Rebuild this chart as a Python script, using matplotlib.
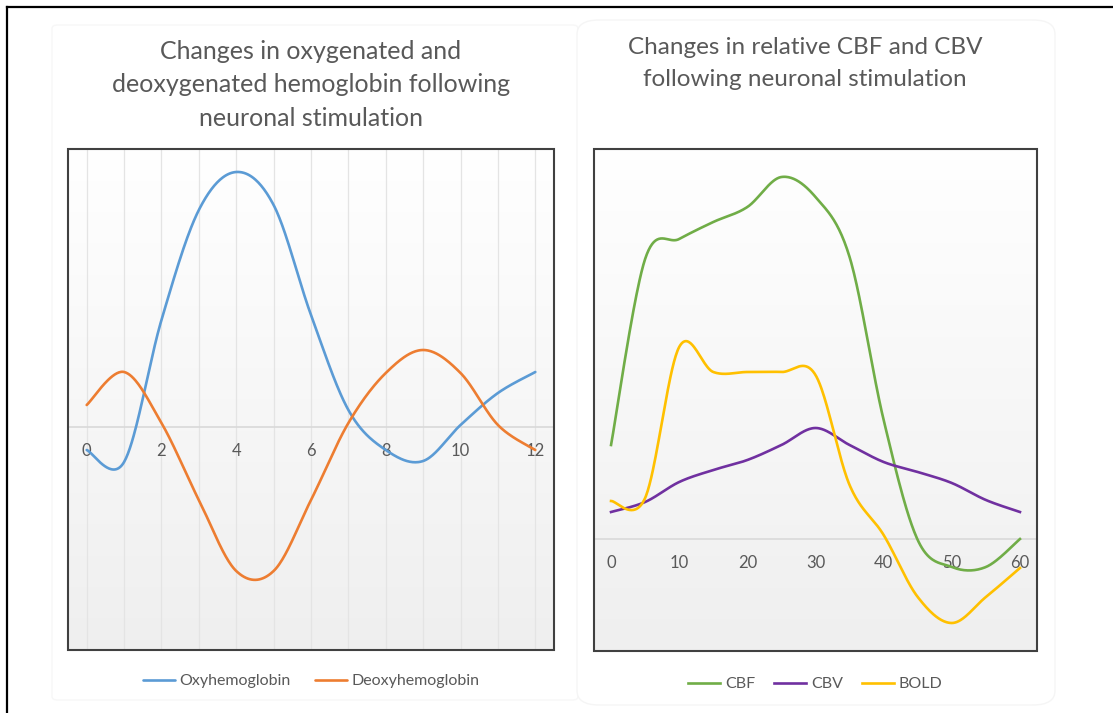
import numpy as np
import matplotlib
matplotlib.use("Agg")
from matplotlib import pyplot as plt
from matplotlib.patches import Rectangle, FancyBboxPatch
from matplotlib.lines import Line2D

plt.rcParams['font.family'] = ['Lato', 'DejaVu Sans']

# left chart: hemoglobin (relative units)
hb_x = list(range(0, 13))
oxy = [-23, -35, 107, 217, 255, 222, 112, 17, -23, -34, 2, 34, 55]
deoxy = [22, 55, 4, -73, -144, -144, -73, 4, 54, 77, 54, 2, -23]

# right chart: CBF / CBV / BOLD (relative units)
t_x = list(range(0, 61, 5))
cbf = [94, 280, 300, 317, 332, 362, 342, 282, 119, -1, -28, -28, 0]
cbv = [27, 37, 57, 69, 79, 94, 111, 94, 77, 67, 56, 39, 27]
bold = [38, 41, 192, 167, 167, 167, 164, 54, 4, -58, -84, -58, -29]

TXT = '#595959'


def smooth(xs, ys, n=40):
    # excel style smoothed line (bezier through the points)
    pts = np.column_stack([xs, ys]).astype(float)
    p = np.vstack([pts[0], pts, pts[-1]])
    t = np.linspace(0, 1, n)[:, None]
    out = []
    for i in range(1, len(p) - 2):
        p0, p1, p2, p3 = p[i - 1], p[i], p[i + 1], p[i + 2]
        c1 = p1 + (p2 - p0) / 6
        c2 = p2 - (p3 - p1) / 6
        seg = (1 - t) ** 3 * p1 + 3 * (1 - t) ** 2 * t * c1 + 3 * (1 - t) * t ** 2 * c2 + t ** 3 * p2
        out.append(seg if i == 1 else seg[1:])
    s = np.vstack(out)
    return s[:, 0], s[:, 1]


def style_ax(ax):
    grad = np.linspace(1, 0, 256)[:, None]
    ax.imshow(grad, extent=[0, 1, 0, 1], transform=ax.transAxes, aspect='auto',
              cmap=matplotlib.colors.LinearSegmentedColormap.from_list('g', ['#efefef', '#ffffff']),
              vmin=0, vmax=1, zorder=0)
    for s in ['top', 'left', 'right']:
        ax.spines[s].set_visible(False)
    ax.spines['bottom'].set_position(('data', 0))
    ax.spines['bottom'].set_color('#d9d9d9')
    ax.spines['bottom'].set_linewidth(1.2)
    ax.set_yticks([])
    ax.tick_params(axis='x', length=0, pad=11.5, labelsize=12, labelcolor=TXT)
    ax.add_patch(Rectangle((0, 0), 1, 1, transform=ax.transAxes, fill=False,
                           ec='#404040', lw=1.5, clip_on=False, zorder=6))


fig = plt.figure(figsize=(11.13, 7.13), dpi=100)

# faint chart area panels
fig.add_artist(FancyBboxPatch((52 / 1113, 1 - 700 / 713), 526 / 1113, 675 / 713,
                              boxstyle='round,pad=0,rounding_size=0.005',
                              transform=fig.transFigure, fc='white', ec='#f7f7f7', lw=1, zorder=0))
fig.add_artist(FancyBboxPatch((577 / 1113, 1 - 705 / 713), 478 / 1113, 685 / 713,
                              boxstyle='round,pad=0,rounding_size=0.02',
                              transform=fig.transFigure, fc='white', ec='#f5f5f5', lw=1, zorder=0))

# outer black frame (top and left only)
fig.add_artist(Line2D([7 / 1113, 1], [1 - 7 / 713, 1 - 7 / 713], transform=fig.transFigure, color='black', lw=1.6))
fig.add_artist(Line2D([7 / 1113, 7 / 1113], [0, 1 - 7 / 713], transform=fig.transFigure, color='black', lw=1.6))

# ---- left chart
ax1 = fig.add_axes([68 / 1113, 1 - 650 / 713, 486 / 1113, 501 / 713])
style_ax(ax1)
ax1.set_xlim(-0.5, 12.5)
ax1.set_ylim(-223, 278)
ax1.set_xticks(range(0, 13, 2))
for xv in hb_x:
    ax1.axvline(xv, color='#e4e4e4', lw=0.9, zorder=1)
sx, sy = smooth(hb_x, oxy)
ax1.plot(sx, sy, color='#5B9BD5', lw=1.9, label='Oxyhemoglobin', zorder=3, solid_capstyle='round')
sx, sy = smooth(hb_x, deoxy)
ax1.plot(sx, sy, color='#ED7D31', lw=1.9, label='Deoxyhemoglobin', zorder=3, solid_capstyle='round')
ax1.legend(loc='center', bbox_to_anchor=(0.5, -0.062), ncol=2, frameon=False, fontsize=11.5,
           labelcolor=TXT, handlelength=2.0, handletextpad=0.3, columnspacing=1.5)
fig.text(311 / 1113, 1 - 85 / 713,
         'Changes in oxygenated and\ndeoxygenated hemoglobin following\nneuronal stimulation',
         ha='center', va='center', fontsize=18, color=TXT, linespacing=1.57)

# ---- right chart
ax2 = fig.add_axes([594 / 1113, 1 - 651 / 713, 443 / 1113, 502 / 713])
style_ax(ax2)
ax2.set_xlim(-2.5, 62.5)
ax2.set_ylim(-112, 390)
ax2.set_xticks(range(0, 61, 10))
sx, sy = smooth(t_x, cbf)
ax2.plot(sx, sy, color='#70AD47', lw=1.9, label='CBF', zorder=3)
sx, sy = smooth(t_x, cbv)
ax2.plot(sx, sy, color='#7030A0', lw=1.9, label='CBV', zorder=3)
sx, sy = smooth(t_x, bold)
ax2.plot(sx, sy, color='#FFC000', lw=1.9, label='BOLD', zorder=3)
ax2.legend(loc='center', bbox_to_anchor=(0.5, -0.066), ncol=3, frameon=False, fontsize=11.5,
           labelcolor=TXT, handlelength=2.0, handletextpad=0.3, columnspacing=1.2)
fig.text(805 / 1113, 1 - 63.5 / 713,
         'Changes in relative CBF and CBV\nfollowing neuronal stimulation',
         ha='center', va='center', fontsize=17.5, color=TXT, linespacing=1.62)

fig.savefig('out.png', dpi=100)
